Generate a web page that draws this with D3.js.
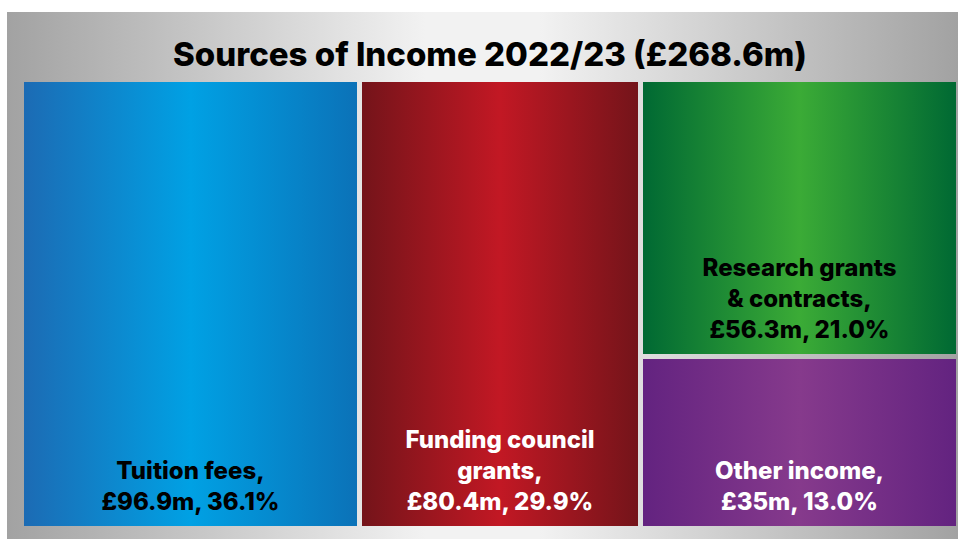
<!DOCTYPE html>
<html>
<head>
<meta charset="utf-8">
<script src="https://cdn.jsdelivr.net/npm/d3@7"></script>
<style>
  html, body { margin: 0; padding: 0; background: #ffffff; }
  svg { display: block; }
</style>
</head>
<body>
<svg id="chart" width="958" height="539"></svg>
<script>
// Income sources, 2022/23 (£m)
const categories = ["Tuition fees", "Funding council grants", "Research grants & contracts", "Other income"];
const values = [96.9, 80.4, 56.3, 35];
const valueLabels = ["£96.9m", "£80.4m", "£56.3m", "£35m"];
const shareLabels = ["36.1%", "29.9%", "21.0%", "13.0%"];
// How each category name wraps inside its tile
const nameLines = [["Tuition fees,"], ["Funding council", "grants,"], ["Research grants", "& contracts,"], ["Other income,"]];
const titleText = "Sources of Income 2022/23 (£268.6m)";

// Horizontal shading per tile: edge colour, centre colour, edge colour
const tileShades = [
  ["#1c6bb4", "#00a1e4", "#0b72b8"],
  ["#74141a", "#c21824", "#74141a"],
  ["#006933", "#3bab36", "#006933"],
  ["#632380", "#863a8c", "#632380"]
];
const textColours = ["#000000", "#ffffff", "#000000", "#ffffff"];
const fontStack = "Inter, Lato, 'Open Sans', sans-serif";

const W = 958, H = 539;
const svg = d3.select("#chart");
const defs = svg.append("defs");

// Silver backdrop
const bg = defs.append("linearGradient").attr("id", "bg-grad")
  .attr("x1", "0%").attr("x2", "100%").attr("y1", "0%").attr("y2", "0%");
[[0, "#a2a2a2"], [0.44, "#f2f2f2"], [0.56, "#f2f2f2"], [1, "#a2a2a2"]].forEach(([o, c]) =>
  bg.append("stop").attr("offset", o).attr("stop-color", c));

svg.append("rect")
  .attr("x", 7).attr("y", 12)
  .attr("width", W - 7).attr("height", H - 12)
  .attr("fill", "url(#bg-grad)");

svg.append("text")
  .attr("x", 490).attr("y", 66)
  .attr("text-anchor", "middle")
  .attr("font-family", fontStack)
  .attr("font-weight", 800)
  .attr("font-size", 33)
  .attr("fill", "#000")
  .text(titleText);

// Treemap of the four sources
const area = { x: 24, y: 82, w: 932, h: 444 };
const rows = categories.map((c, i) => ({ name: c, value: values[i], i }));
const root = d3.hierarchy({ children: rows }).sum(d => d.value || 0);
d3.treemap()
  .tile(d3.treemapSquarify.ratio(1))
  .size([area.w, area.h])
  .paddingInner(5)
  .round(true)(root);

tileShades.forEach((s, i) => {
  const g = defs.append("linearGradient").attr("id", "tile-grad-" + i)
    .attr("x1", "0%").attr("x2", "100%").attr("y1", "0%").attr("y2", "0%");
  g.append("stop").attr("offset", 0).attr("stop-color", s[0]);
  g.append("stop").attr("offset", 0.5).attr("stop-color", s[1]);
  g.append("stop").attr("offset", 1).attr("stop-color", s[2]);
});

const plot = svg.append("g").attr("transform", `translate(${area.x},${area.y})`);

const leaf = plot.selectAll("g.tile")
  .data(root.leaves())
  .join("g").attr("class", "tile");

leaf.append("rect")
  .attr("x", d => d.x0).attr("y", d => d.y0)
  .attr("width", d => d.x1 - d.x0).attr("height", d => d.y1 - d.y0)
  .attr("fill", d => "url(#tile-grad-" + d.data.i + ")");

const lineH = 31;
leaf.each(function (d) {
  const i = d.data.i;
  const lines = nameLines[i].concat([valueLabels[i] + ", " + shareLabels[i]]);
  const cx = (d.x0 + d.x1) / 2;
  const lastBase = d.y1 - 16;
  const t = d3.select(this).append("text")
    .attr("text-anchor", "middle")
    .attr("font-family", fontStack)
    .attr("font-weight", 800)
    .attr("font-size", 24)
    .attr("fill", textColours[i]);
  lines.forEach((ln, k) => {
    t.append("tspan")
      .attr("x", cx)
      .attr("y", lastBase - (lines.length - 1 - k) * lineH)
      .text(ln);
  });
});
</script>
</body>
</html>
